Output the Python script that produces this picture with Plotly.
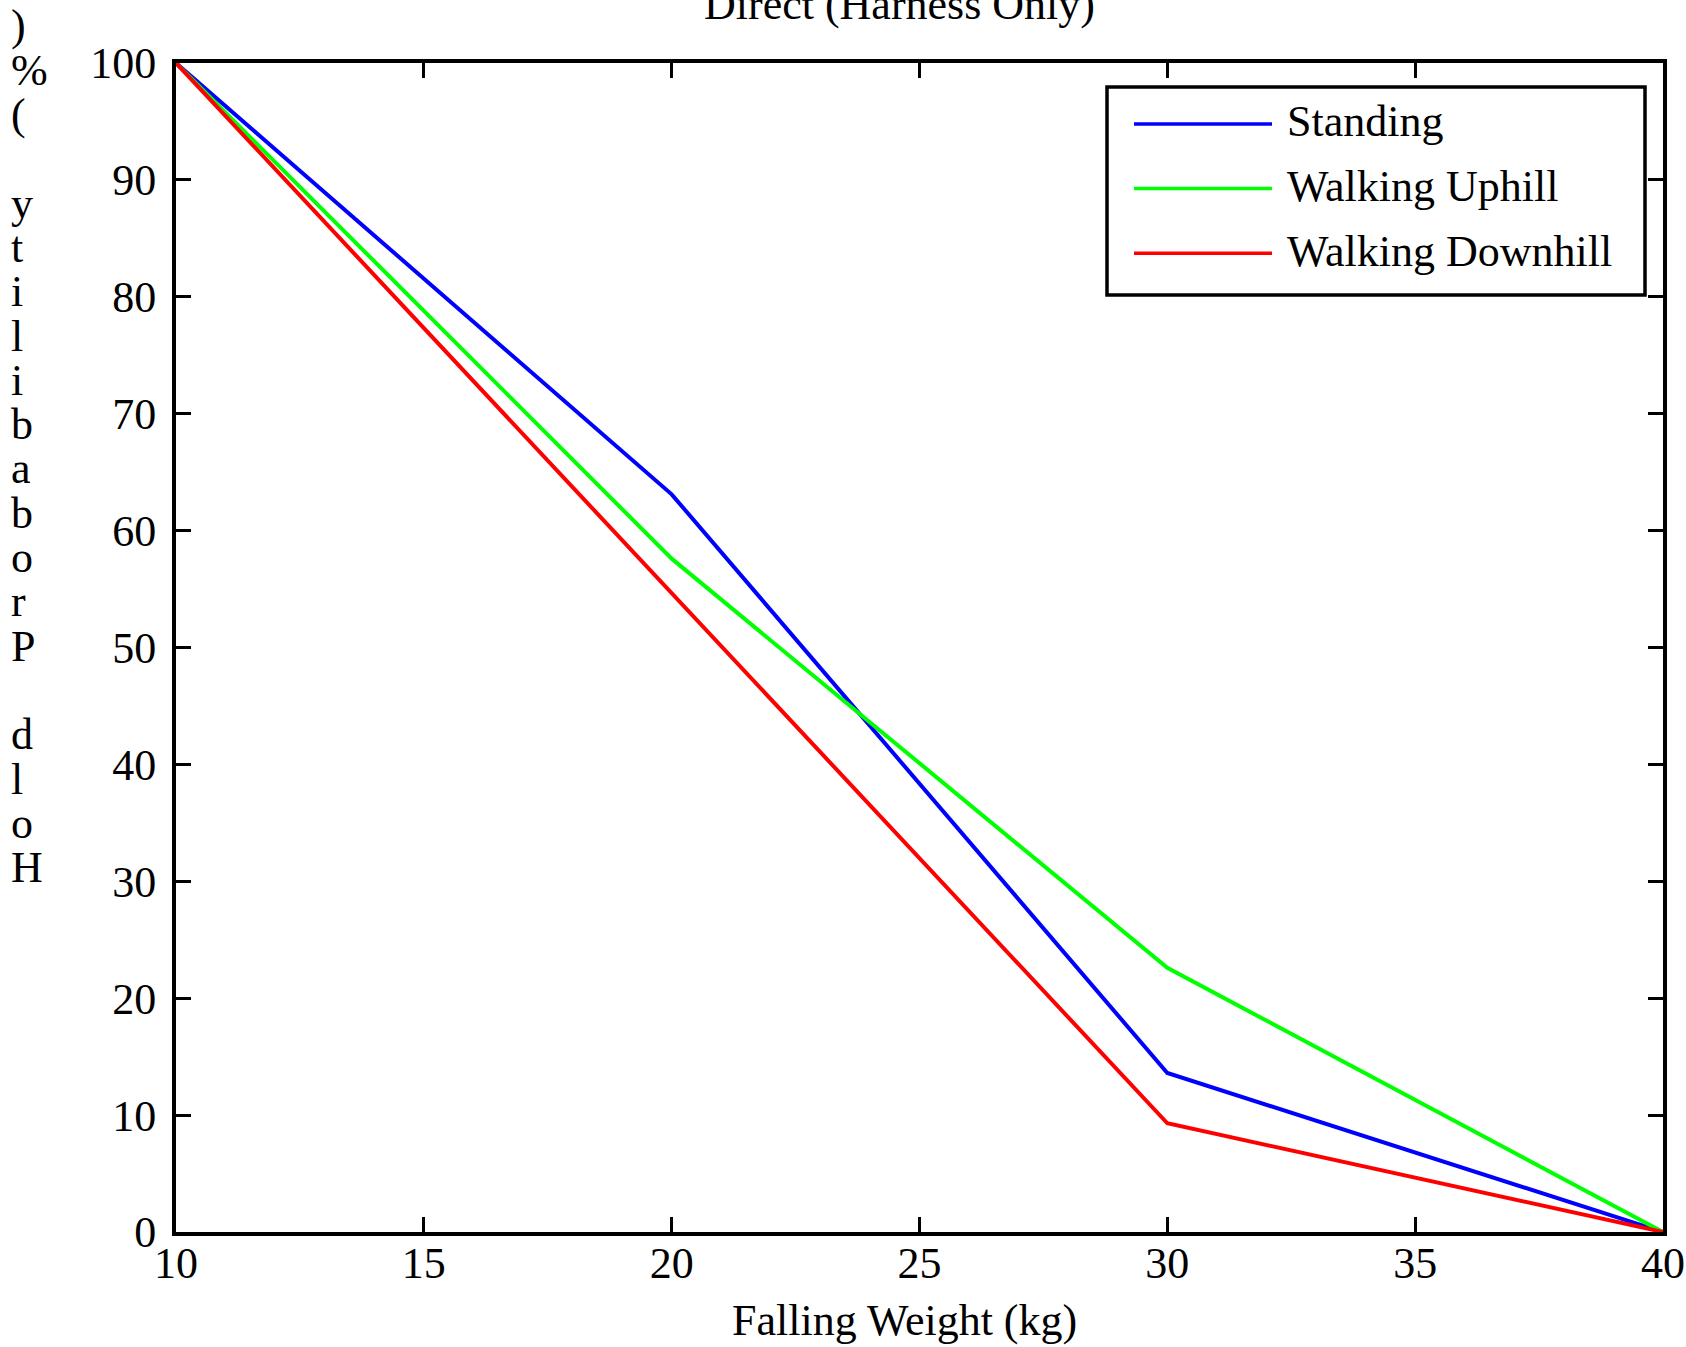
import plotly.graph_objects as go

# ---------------- data ----------------
weights = [10, 20, 30, 40]
standing = [100, 63.1, 13.6, 0]
walking_uphill = [100, 57.6, 22.6, 0]
walking_downhill = [100, 54.6, 9.3, 0]
series_names = ["Standing", "Walking Uphill", "Walking Downhill"]
series_colors = ["#0000ff", "#00ff00", "#ff0000"]
title_text = "Direct (Harness Only)"
x_title = "Falling Weight (kg)"
y_title = "Hold Probability (%)"
x_ticks = [10, 15, 20, 25, 30, 35, 40]
y_ticks = [0, 10, 20, 30, 40, 50, 60, 70, 80, 90, 100]

# ---------------- layout geometry (pixels) ----------------
W, H = 1686, 1347
L, T = 176, 63
PW, PH = 1487, 1169
R, B = W - L - PW, H - T - PH
FONT = "Liberation Serif"
FS = 44


def px(xp):  # page pixel -> paper x
    return (xp - L) / PW


def py(yp):  # page pixel -> paper y
    return (T + PH - yp) / PH


fig = go.Figure()
for name, ys, col in zip(series_names, [standing, walking_uphill, walking_downhill], series_colors):
    fig.add_trace(go.Scatter(x=weights, y=ys, mode="lines", name=name,
                             line=dict(color=col, width=4), showlegend=False))

axis_common = dict(
    showgrid=False, zeroline=False, showline=True, linecolor="black", linewidth=4,
    mirror="ticks", ticks="inside", ticklen=15, tickwidth=3, tickcolor="black",
    tickfont=dict(family=FONT, size=FS, color="black"), ticklabeloverflow="allow",
    automargin=False,
)

fig.update_xaxes(range=[10, 40], tickvals=x_ticks, ticklabelstandoff=-11, **axis_common)
fig.update_yaxes(range=[0, 100], tickvals=y_ticks, ticklabelstandoff=7, **axis_common)

annotations = []
# title
annotations.append(dict(text=title_text, xref="paper", yref="paper", x=px(899), y=py(4),
                        xanchor="center", yanchor="middle", showarrow=False,
                        font=dict(family=FONT, size=FS, color="black")))
# x-axis title
annotations.append(dict(text=x_title, xref="paper", yref="paper", x=px(904), y=py(1320),
                        xanchor="center", yanchor="middle", showarrow=False,
                        font=dict(family=FONT, size=FS, color="black")))
# y-axis title, stacked characters (reversed order top-to-bottom)
for i, ch in enumerate(reversed(y_title)):
    if ch == " ":
        continue
    annotations.append(dict(text=ch, xref="paper", yref="paper", x=px(9), y=py(26 + i * 44.3),
                            xanchor="left", yanchor="middle", showarrow=False,
                            font=dict(family=FONT, size=FS, color="black")))

shapes = []
# legend box
shapes.append(dict(type="rect", xref="paper", yref="paper", x0=px(1107), x1=px(1645),
                   y0=py(295), y1=py(87), line=dict(color="black", width=3.5), fillcolor="white",
                   layer="above"))
for k, (name, col) in enumerate(zip(series_names, series_colors)):
    yc = 124 + k * 64.6
    shapes.append(dict(type="line", xref="paper", yref="paper", x0=px(1134), x1=px(1272),
                       y0=py(yc), y1=py(yc), line=dict(color=col, width=3.5), layer="above"))
    annotations.append(dict(text=name, xref="paper", yref="paper", x=px(1285), y=py(yc - 2),
                            xanchor="left", yanchor="middle", showarrow=False,
                            font=dict(family=FONT, size=FS, color="black")))

fig.update_layout(
    width=W, height=H, autosize=False,
    margin=dict(l=L, r=R, t=T, b=B, pad=0, autoexpand=False),
    paper_bgcolor="white", plot_bgcolor="white",
    annotations=annotations, shapes=shapes, showlegend=False,
)

fig.write_html("out.html", config={"displayModeBar": False},
               post_script="document.body.style.margin='0px';document.body.style.overflow='hidden';")
